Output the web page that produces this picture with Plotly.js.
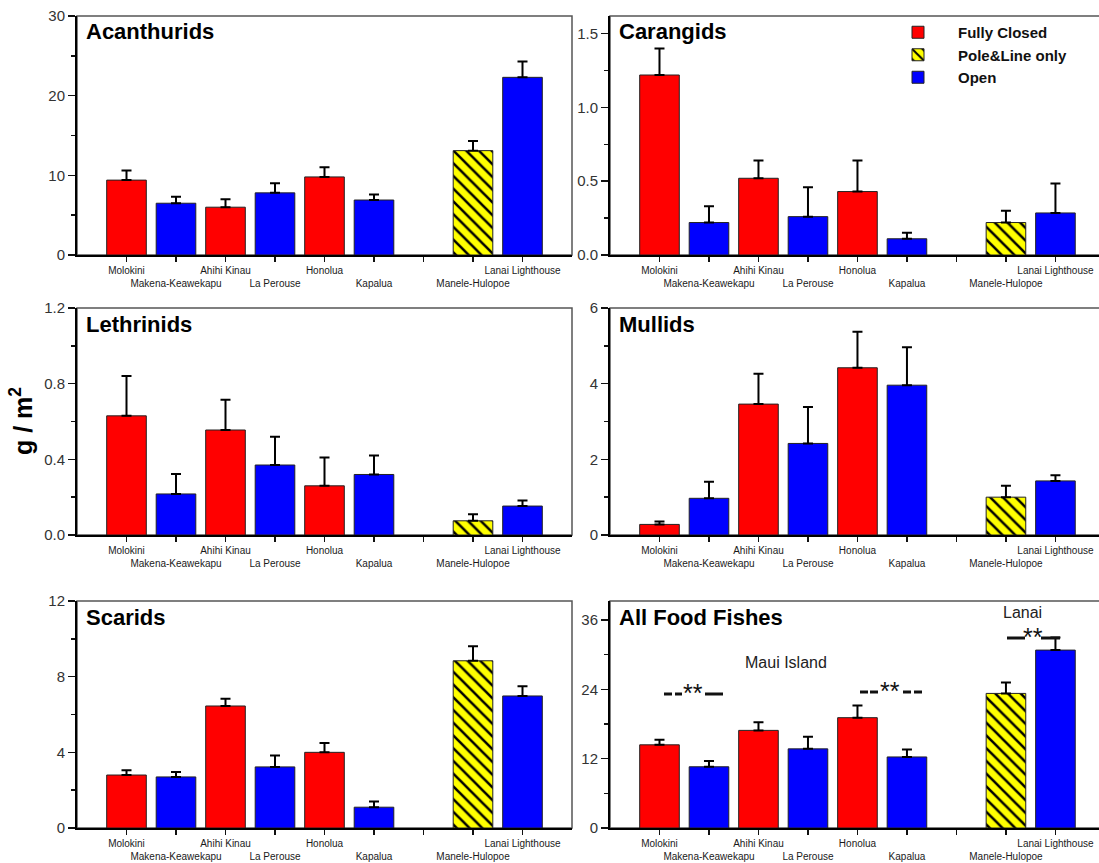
<!DOCTYPE html>
<html>
<head>
<meta charset="utf-8">
<script src="https://cdn.plot.ly/plotly-3.0.1.min.js"></script>
<style>html,body{margin:0;padding:0;background:#fff;}#chart{width:1099px;height:863px;}</style>
</head>
<body>
<div id="chart"></div>
<script>
// ---- data ----
const sites = ['Molokini','Makena-Keawekapu','Ahihi Kinau','La Perouse','Honolua','Kapalua','Manele-Hulopoe','Lanai Lighthouse'];
const slots = ['Molokini','Makena-Keawekapu','Ahihi Kinau','La Perouse','Honolua','Kapalua','','Manele-Hulopoe','Lanai Lighthouse'];
const labelRow = [1,2,1,2,1,2,0,2,1];
const protection = ['Fully Closed','Open','Fully Closed','Open','Fully Closed','Open','Pole&Line only','Open'];
const groups = ['Fully Closed','Pole&Line only','Open'];

const acanthurids   = [9.4, 6.5, 6.0, 7.8, 9.8, 6.9, 13.1, 22.3];
const acanthuridsSE = [1.2, 0.8, 1.0, 1.2, 1.2, 0.7, 1.2, 2.0];
const carangids     = [1.22, 0.22, 0.52, 0.26, 0.43, 0.11, 0.22, 0.285];
const carangidsSE   = [0.18, 0.11, 0.12, 0.20, 0.21, 0.04, 0.08, 0.20];
const lethrinids    = [0.63, 0.217, 0.555, 0.37, 0.26, 0.32, 0.075, 0.153];
const lethrinidsSE  = [0.21, 0.105, 0.16, 0.15, 0.15, 0.10, 0.035, 0.03];
const mullids       = [0.28, 0.97, 3.46, 2.42, 4.42, 3.96, 1.0, 1.43];
const mullidsSE     = [0.08, 0.44, 0.80, 0.96, 0.95, 1.0, 0.30, 0.15];
const scarids       = [2.8, 2.7, 6.45, 3.23, 4.0, 1.1, 8.84, 6.98];
const scaridsSE     = [0.25, 0.26, 0.38, 0.60, 0.50, 0.30, 0.77, 0.52];
const allFood       = [14.4, 10.6, 16.9, 13.7, 19.1, 12.3, 23.3, 30.8];
const allFoodSE     = [0.9, 1.0, 1.4, 2.1, 2.1, 1.3, 1.9, 2.2];

const panels = [
  {title:'Acanthurids', v:acanthurids, se:acanthuridsSE, top:30, dtick:10, fmt:'', col:0, row:0},
  {title:'Carangids', v:carangids, se:carangidsSE, top:1.62, dtick:0.5, fmt:'.1f', col:1, row:0},
  {title:'Lethrinids', v:lethrinids, se:lethrinidsSE, top:1.2, dtick:0.4, fmt:'.1f', col:0, row:1},
  {title:'Mullids', v:mullids, se:mullidsSE, top:6, dtick:2, fmt:'', col:1, row:1},
  {title:'Scarids', v:scarids, se:scaridsSE, top:12, dtick:4, fmt:'', col:0, row:2},
  {title:'All Food Fishes', v:allFood, se:allFoodSE, top:39.3, dtick:12, fmt:'', col:1, row:2}
];

// ---- styles / layout ----
const W = 1099, H = 863;
const FONT = 'Liberation Sans, Arial, sans-serif';
const colX = [[77, 572], [610, 1099]];
const rowY = [[16, 255], [308, 535], [601, 828]];
const xRanges = [[-1, 9], [-1, 8.88]];
const style = {
  'Fully Closed': {color:'#FF0000'},
  'Open': {color:'#0000FF'},
  'Pole&Line only': {color:'#FFFF00', pattern:{shape:'\\', fgcolor:'#000000', bgcolor:'#FFFF00', size:9, solidity:0.28}}
};

const ticktext = slots.map((s, i) => labelRow[i] === 2 ? '\u00a0<br>' + s : s);

const traces = [];
const layout = {
  width: W, height: H,
  margin: {l:0, r:0, t:0, b:0},
  paper_bgcolor: '#ffffff', plot_bgcolor: 'rgba(0,0,0,0)',
  font: {family: FONT, color: '#222'},
  barmode: 'overlay',
  showlegend: true,
  legend: {x: 878/W, y: 1 - 16/H, xanchor:'left', yanchor:'top', bgcolor:'rgba(0,0,0,0)',
           font:{family:FONT, size:15, color:'#111', weight:'bold'}, itemwidth:70, tracegroupgap:0},
  annotations: [], shapes: []
};

panels.forEach((p, k) => {
  const n = k + 1;
  const xa = 'x' + (n === 1 ? '' : n), ya = 'y' + (n === 1 ? '' : n);
  const xkey = 'xaxis' + (n === 1 ? '' : n), ykey = 'yaxis' + (n === 1 ? '' : n);
  const cx = colX[p.col], ry = rowY[p.row];
  const minorVals = [];
  for (let t = p.dtick / 2; t < p.top; t += p.dtick) minorVals.push(+t.toFixed(4));
  layout[xkey] = {
    domain: [cx[0] / W, Math.min(1, cx[1] / W)], anchor: ya,
    range: xRanges[p.col], tickmode:'array', tickvals: slots.map((s, i) => i), ticktext: ticktext,
    tickangle: 0,
    ticks:'outside', ticklen:5, tickwidth:1.5, tickcolor:'#111',
    showline:true, linecolor:'#000', linewidth:2, showgrid:false, zeroline:false,
    tickfont:{family:FONT, size:10, color:'#1a1a1a'}, fixedrange:true
  };
  layout[ykey] = {
    domain: [1 - ry[1] / H, 1 - ry[0] / H], anchor: xa,
    range: [0, p.top], tickmode:'linear', tick0:0, dtick:p.dtick, tickformat:p.fmt,
    ticks:'outside', ticklen:7, tickwidth:1.5, tickcolor:'#111',
    minor:{tickmode:'array', tickvals:minorVals, ticks:'outside', ticklen:4, tickwidth:1.5, tickcolor:'#111', showgrid:false},
    showline:true, linecolor:'#000', linewidth:2, showgrid:false, zeroline:false,
    tickfont:{family:FONT, size:15, color:'#333'}, fixedrange:true
  };
  // frame
  layout.shapes.push({type:'rect', xref: xa + ' domain', yref: ya + ' domain', x0:0, x1: p.col === 1 ? 1.05 : 1, y0:0, y1:1,
    line:{color:'#555', width:1.5}, layer:'below'});
  // panel title
  layout.annotations.push({xref:'paper', yref:'paper', x:(cx[0] + 7) / W, y: 1 - (ry[0] + 16) / H,
    xanchor:'left', yanchor:'middle', showarrow:false, text:p.title,
    font:{family:FONT, size:22, color:'#000', weight:'bold'}});

  groups.forEach(g => {
    const idx = protection.map((pr, j) => pr === g ? j : -1).filter(j => j >= 0);
    const st = style[g];
    const marker = {color: st.color, line:{color:'#222', width:1}};
    if (st.pattern) marker.pattern = st.pattern;
    traces.push({
      type:'bar', name:g, legendgroup:g, showlegend: k === 0,
      xaxis: xa, yaxis: ya,
      x: idx.map(j => slots.indexOf(sites[j])),
      y: idx.map(j => p.v[j]),
      width: 0.8,
      marker: marker,
      error_y: {type:'data', symmetric:false, array: idx.map(j => p.se[j]), arrayminus: idx.map(() => 0),
                color:'#000', thickness:2, width:5},
      hoverinfo:'skip'
    });
  });
});

// y-axis title
layout.annotations.push({xref:'paper', yref:'paper', x:21 / W, y:1 - 421 / H, xanchor:'center', yanchor:'middle', textangle:-90,
  showarrow:false, text:'g / m<sup>2</sup>', font:{family:FONT, size:25, color:'#000', weight:'bold'}});
// All Food Fishes notes
const noteFont = {family:FONT, size:16, color:'#222'};
const starFont = {family:FONT, size:25, color:'#111'};
function note(x, y, text, font) {
  layout.annotations.push({xref:'paper', yref:'paper', x:x / W, y:1 - y / H, xanchor:'center', yanchor:'middle',
    showarrow:false, text:text, font:font});
}
function dash(x0, x1, y) {
  layout.shapes.push({type:'line', xref:'paper', yref:'paper', x0:x0 / W, x1:x1 / W, y0:1 - y / H, y1:1 - y / H,
    line:{color:'#111', width:3}});
}
note(786, 662, 'Maui Island', noteFont);
note(1022, 612, 'Lanai', noteFont);
// left Maui marker
dash(664, 672, 694); dash(675, 682, 694); note(693, 693, '**', starFont); dash(705, 723, 694);
// right Maui marker
dash(860, 868, 692); dash(870, 878, 692); note(890, 691, '**', starFont); dash(903, 911, 692); dash(914, 922, 692);
// Lanai marker
dash(1007, 1025, 638); note(1033, 637, '**', starFont); dash(1041, 1060, 638);

Plotly.newPlot('chart', traces, layout, {staticPlot:true, displayModeBar:false});
</script>
</body>
</html>
